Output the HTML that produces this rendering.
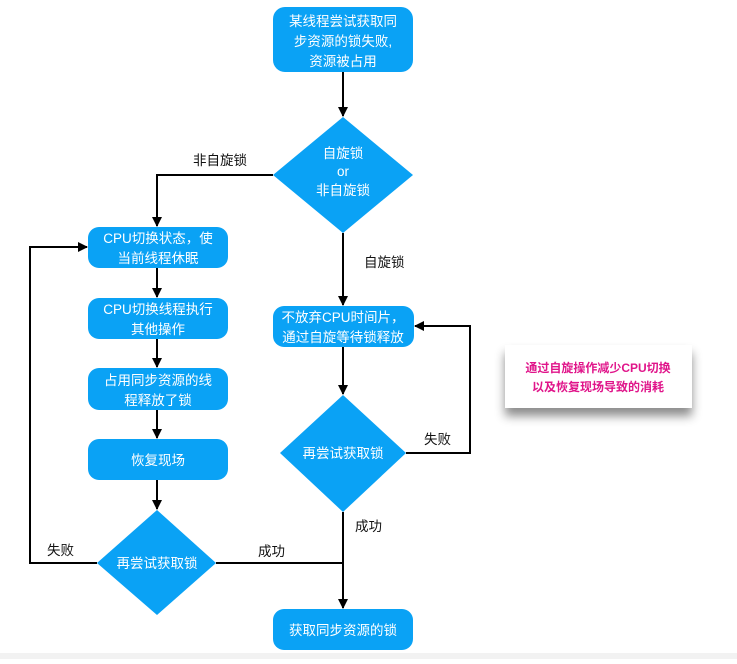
<!DOCTYPE html>
<html><head><meta charset="utf-8"><style>
html,body{margin:0;padding:0;background:#fff;}
svg text{font-family:"Liberation Sans","Noto Sans CJK SC",sans-serif;}
</style></head><body>
<svg width="737" height="659" viewBox="0 0 737 659" xmlns="http://www.w3.org/2000/svg">
<defs>
<marker id="a" markerWidth="10" markerHeight="10" refX="9" refY="5" orient="auto" markerUnits="userSpaceOnUse">
<path d="M0,0 L10,5 L0,10 z" fill="#000"/></marker>
<filter id="sh" x="-20%" y="-30%" width="140%" height="180%"><feDropShadow dx="0" dy="8" stdDeviation="5" flood-color="#000" flood-opacity="0.45"/></filter>
</defs>
<rect x="0" y="653" width="737" height="6" fill="#f2f2f2"/>
<g fill="#0aa2f5">
<rect x="273" y="7" width="140" height="65" rx="12"/>
<polygon points="343,117 413,175 343,233 273,175"/>
<rect x="88" y="227" width="140" height="41" rx="11"/>
<rect x="88" y="298" width="140" height="41" rx="11"/>
<rect x="88" y="368" width="140" height="42" rx="11"/>
<rect x="88" y="439" width="140" height="41" rx="11"/>
<polygon points="157,510 216,563 157,615 97,563"/>
<rect x="273" y="306" width="141" height="41" rx="11"/>
<polygon points="343,395 406,453 343,512 280,453"/>
<rect x="273" y="609" width="140" height="41" rx="11"/>
</g>
<g stroke="#000" stroke-width="2" fill="none">
<line x1="343" y1="72" x2="343" y2="116" marker-end="url(#a)"/>
<polyline points="273,175 157,175 157,226" marker-end="url(#a)"/>
<line x1="157" y1="268" x2="157" y2="297" marker-end="url(#a)"/>
<line x1="157" y1="339" x2="157" y2="367" marker-end="url(#a)"/>
<line x1="157" y1="410" x2="157" y2="438" marker-end="url(#a)"/>
<line x1="157" y1="480" x2="157" y2="509" marker-end="url(#a)"/>
<polyline points="97,563 30,563 30,247 87,247" marker-end="url(#a)"/>
<line x1="216" y1="563" x2="343" y2="563"/>
<line x1="343" y1="233" x2="343" y2="305" marker-end="url(#a)"/>
<line x1="343" y1="347" x2="343" y2="394" marker-end="url(#a)"/>
<polyline points="406,453 470,453 470,326 415,326" marker-end="url(#a)"/>
<line x1="343" y1="512" x2="343" y2="608" marker-end="url(#a)"/>
</g>
<g fill="#fff" font-size="13.5" text-anchor="middle">
<text x="343" y="26">某线程尝试获取同</text>
<text x="343" y="46">步资源的锁失败,</text>
<text x="343" y="66">资源被占用</text>
<text x="343" y="158">自旋锁</text>
<text x="343" y="176">or</text>
<text x="343" y="195">非自旋锁</text>
<text x="158" y="243">CPU切换状态，使</text>
<text x="158" y="263">当前线程休眠</text>
<text x="158" y="314">CPU切换线程执行</text>
<text x="158" y="334">其他操作</text>
<text x="158" y="385">占用同步资源的线</text>
<text x="158" y="405">程释放了锁</text>
<text x="158" y="465">恢复现场</text>
<text x="157" y="568">再尝试获取锁</text>
<text x="343" y="322">不放弃CPU时间片，</text>
<text x="343" y="342">通过自旋等待锁释放</text>
<text x="343" y="458">再尝试获取锁</text>
<text x="343" y="635">获取同步资源的锁</text>
</g>
<g fill="#111" font-size="13.5">
<text x="193" y="165">非自旋锁</text>
<text x="364" y="267">自旋锁</text>
<text x="47" y="555">失败</text>
<text x="258" y="556">成功</text>
<text x="424" y="444">失败</text>
<text x="355" y="531">成功</text>
</g>
<rect x="505" y="345" width="187" height="63" fill="#fff" filter="url(#sh)"/>
<g fill="#e0158a" font-size="12" font-weight="bold" text-anchor="middle">
<text x="598" y="372">通过自旋操作减少CPU切换</text>
<text x="598" y="391">以及恢复现场导致的消耗</text>
</g>
</svg>
</body></html>
